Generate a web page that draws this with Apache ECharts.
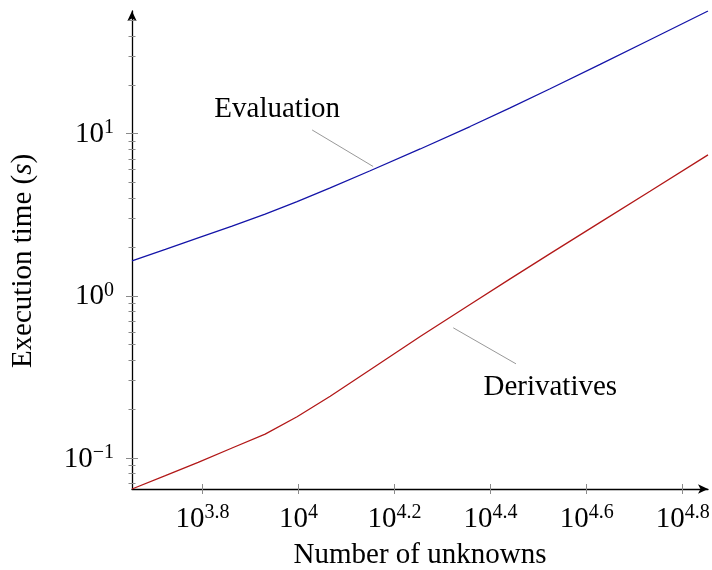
<!DOCTYPE html>
<html><head><meta charset="utf-8">
<script src="https://cdn.jsdelivr.net/npm/echarts@6/dist/echarts.min.js"></script>
<style>html,body{margin:0;padding:0;background:#fff}#c{width:712px;height:570px}</style>
</head><body><div id="c"></div>
<script>
// ---- data ----
const unknowns = [4500, 5280, 6180, 7270, 8520, 9930, 11640, 14100, 17920, 22760, 27580, 33410, 42460, 53940, 71230];
const evaluationTime = [1.644, 1.935, 2.278, 2.694, 3.191, 3.806, 4.632, 5.908, 8.05, 11.07, 14.43, 18.94, 26.75, 37.95, 57.1];
const derivativesTime = [0.0644, 0.0778, 0.0941, 0.1153, 0.1405, 0.1796, 0.2406, 0.3499, 0.5609, 0.8841, 1.273, 1.822, 2.84, 4.413, 7.398];
const xTickExponents = [3.8, 4.0, 4.2, 4.4, 4.6, 4.8];
const yTickExponents = [-1, 0, 1];
const yMinorTicks = [0.07, 0.08, 0.09, 0.2, 0.3, 0.4, 0.5, 0.6, 0.7, 0.8, 0.9, 2, 3, 4, 5, 6, 7, 8, 9, 20, 30, 40, 50];
const seriesNames = ['Evaluation', 'Derivatives'];
const xAxisTitle = 'Number of unknowns';

// ---- rendering ----
const FONT = 'Liberation Serif';
const xMin = Math.min(...unknowns), xMax = Math.max(...unknowns);
const yMin = Math.min(...derivativesTime), yMax = Math.max(...evaluationTime);
const xTickVals = xTickExponents.map(e => Math.pow(10, e));
const yTickVals = yTickExponents.map(e => Math.pow(10, e));

function expLabel(v) {
  const e = Math.round(Math.log10(v) * 10) / 10;
  let s = Number.isInteger(e) ? String(e) : e.toFixed(1);
  s = s.replace('-', '\u2212');
  return '{b|10}{s|' + s + '}';
}
const rich = {
  b: { fontFamily: FONT, fontSize: 29, color: '#000', verticalAlign: 'bottom' },
  s: { fontFamily: FONT, fontSize: 20, color: '#000', verticalAlign: 'bottom', padding: [0, 0, 11, 0] }
};
const tickColor = '#8a8a8a';

function mkX(extra) {
  return Object.assign({
    type: 'log', min: xMin, max: xMax, position: 'bottom',
    splitLine: { show: false }, minorTick: { show: false }, axisLabel: { show: false },
    axisLine: { show: false }, axisTick: { show: false }
  }, extra);
}
function mkY(extra) {
  return Object.assign({
    type: 'log', min: yMin, max: yMax, position: 'left',
    splitLine: { show: false }, minorTick: { show: false }, axisLabel: { show: false },
    axisLine: { show: false }, axisTick: { show: false }
  }, extra);
}

const chart = echarts.init(document.getElementById('c'), null, { renderer: 'canvas' });
const option = {
  animation: false,
  backgroundColor: '#fff',
  grid: { left: 132, right: 4, top: 11, bottom: 81, containLabel: false, outerBoundsMode: 'none' },
  xAxis: [
    mkX({
      name: xAxisTitle, nameLocation: 'middle', nameGap: 52,
      nameTextStyle: { fontFamily: FONT, fontSize: 29, color: '#000' },
      axisLine: { show: true, lineStyle: { color: '#000', width: 1.3 }, symbol: ['none', 'arrow'], symbolSize: [7, 10] },
      axisTick: { show: true, customValues: xTickVals, inside: false, length: 5, lineStyle: { color: tickColor, width: 1 } },
      axisLabel: { show: true, customValues: xTickVals, formatter: expLabel, rich: rich, margin: 14 }
    }),
    mkX({ axisTick: { show: true, customValues: xTickVals, inside: true, length: 5, lineStyle: { color: tickColor, width: 1 } } })
  ],
  yAxis: [
    mkY({
      name: 'Execution time ({i|s})', nameLocation: 'middle', nameGap: 94,
      nameTextStyle: { fontFamily: FONT, fontSize: 29, color: '#000', padding: [0, 22, 0, 0],
        rich: { i: { fontFamily: FONT, fontSize: 29, fontStyle: 'italic', color: '#000' } } },
      axisLine: { show: true, lineStyle: { color: '#000', width: 1.3 }, symbol: ['none', 'arrow'], symbolSize: [7, 10] },
      axisTick: { show: true, customValues: yTickVals, inside: false, length: 6, lineStyle: { color: tickColor, width: 1 } },
      axisLabel: { show: true, customValues: yTickVals, formatter: expLabel, rich: rich, margin: 18 }
    }),
    mkY({ axisTick: { show: true, customValues: yTickVals, inside: true, length: 6, lineStyle: { color: tickColor, width: 1 } } }),
    mkY({ axisTick: { show: true, customValues: yMinorTicks, inside: false, length: 3.5, lineStyle: { color: tickColor, width: 1 } } }),
    mkY({ axisTick: { show: true, customValues: yMinorTicks, inside: true, length: 3.5, lineStyle: { color: tickColor, width: 1 } } })
  ],
  series: [
    { name: seriesNames[0], type: 'line', xAxisIndex: 0, yAxisIndex: 0, showSymbol: false, symbol: 'none',
      data: unknowns.map((x, i) => [x, evaluationTime[i]]), lineStyle: { color: '#1414a8', width: 1.3 }, z: 3 },
    { name: seriesNames[1], type: 'line', xAxisIndex: 0, yAxisIndex: 0, showSymbol: false, symbol: 'none',
      data: unknowns.map((x, i) => [x, derivativesTime[i]]), lineStyle: { color: '#b21818', width: 1.3 }, z: 3 }
  ]
};
chart.setOption(option);

// ---- pin annotations, anchored on the curves ----
function curveAt(xs, ys, x) {
  const lx = Math.log10(x);
  for (let i = 0; i < xs.length - 1; i++) {
    const a = Math.log10(xs[i]), b = Math.log10(xs[i + 1]);
    if (lx >= a && lx <= b) {
      const t = (lx - a) / (b - a);
      return Math.pow(10, Math.log10(ys[i]) + t * (Math.log10(ys[i + 1]) - Math.log10(ys[i])));
    }
  }
  return ys[ys.length - 1];
}
const pins = [
  { text: seriesNames[0], ys: evaluationTime, at: 14300, start: [0, -3], end: [-61, -39.5], label: [-96, -60] },
  { text: seriesNames[1], ys: derivativesTime, at: 21000, start: [0, 12.5], end: [62.7, 48.5], label: [97, 72] }
];
const graphics = [];
pins.forEach(p => {
  const pt = chart.convertToPixel({ xAxisIndex: 0, yAxisIndex: 0 }, [p.at, curveAt(unknowns, p.ys, p.at)]);
  graphics.push({ type: 'line', shape: { x1: pt[0] + p.start[0], y1: pt[1] + p.start[1], x2: pt[0] + p.end[0], y2: pt[1] + p.end[1] },
    style: { stroke: '#999', lineWidth: 1 }, z: 10 });
  graphics.push({ type: 'text', x: pt[0] + p.label[0], y: pt[1] + p.label[1],
    style: { text: p.text, font: '29px "' + FONT + '"', fill: '#000', align: 'center', verticalAlign: 'middle' }, z: 10 });
});
chart.setOption({ graphic: graphics });
</script></body></html>
